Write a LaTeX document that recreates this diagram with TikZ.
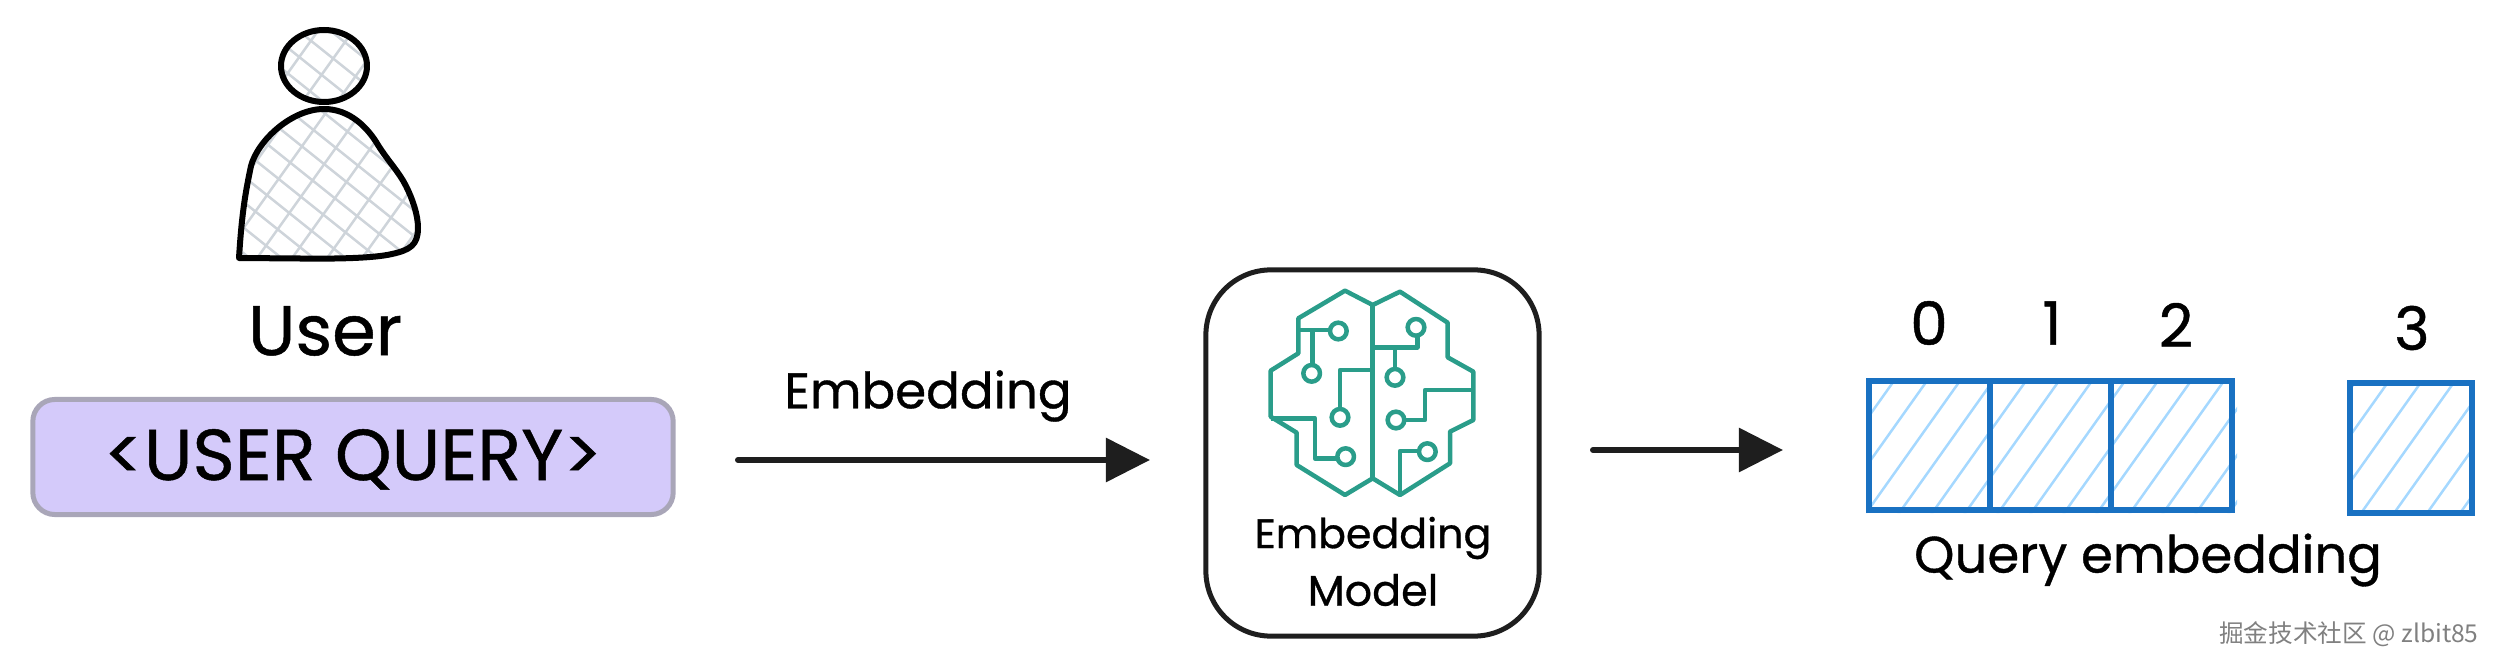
\documentclass[tikz,border=0pt]{standalone}
\usepackage{fontspec}
\setmainfont{Poppins}[FakeBold=0.7]
\newfontfamily\cjkfont{Noto Sans CJK SC}
\usepackage{xcolor}
\usetikzlibrary{positioning,arrows.meta}
\definecolor{inkblack}{HTML}{1E1E1E}
\definecolor{querypurple}{HTML}{D4CAFA}
\definecolor{queryedge}{HTML}{A9A6B8}
\definecolor{cellblue}{HTML}{1971C2}
\definecolor{hatchblue}{HTML}{A5D8FF}
\definecolor{hatchgrey}{HTML}{CED4DA}
\definecolor{brainteal}{HTML}{2A9D8A}
\tikzset{
	label text/.style={inner sep=0pt,text=black,font=\fontsize{17}{20}\selectfont},
	cell/.style={draw=cellblue,line width=0.6mm,minimum width=1.21cm,minimum height=1.29cm,inner sep=0pt,outer sep=0pt},
	flow/.style={draw=inkblack,line width=0.6mm,line cap=round,-{Triangle[length=4.4mm,width=4.3mm]}},
	person/.style={draw=black,line width=0.6mm,line join=round},
	grey hatch/.style={draw=hatchgrey,line width=0.25mm},
	blue hatch/.style={draw=hatchblue,line width=0.25mm},
	brain/.style={draw=brainteal,line width=0.45mm,line join=round}
}
\begin{document}
\begin{tikzpicture}[x=0.01cm,y=-0.01cm]
	\useasboundingbox (0,0) rectangle (2499,667);

	% user figure
	\begin{scope}
		\clip (324,66) ellipse [x radius=43,y radius=36];
		\foreach \k in {0,...,8} \draw[grey hatch] ({200+35*\k},0) -- ++(-80,112);
		\foreach \k in {0,...,10} \draw[grey hatch] ({100+32*\k},0) -- ++(150,120);
	\end{scope}
	\begin{scope}
		\clip (239,258) .. controls (242,210) and (246,190) .. (251,166) .. controls (258,140) and (292,109) .. (324,109) .. controls (350,109) and (368,128) .. (378,145) .. controls (388,161) and (399,172) .. (406,186) .. controls (412,198) and (418,214) .. (418,228) .. controls (418,245) and (410,250) .. (392,254) .. controls (375,258) and (340,259) .. (300,258.5) -- cycle;
		\foreach \k in {0,...,14} \draw[grey hatch] ({300+35*\k},100) -- ++(-120,168);
		\foreach \k in {0,...,16} \draw[grey hatch] ({20+32*\k},100) -- ++(210,168);
	\end{scope}
	\draw[person] (324,66) ellipse [x radius=43,y radius=36];
	\draw[person] (239,258) .. controls (242,210) and (246,190) .. (251,166) .. controls (258,140) and (292,109) .. (324,109) .. controls (350,109) and (368,128) .. (378,145) .. controls (388,161) and (399,172) .. (406,186) .. controls (412,198) and (418,214) .. (418,228) .. controls (418,245) and (410,250) .. (392,254) .. controls (375,258) and (340,259) .. (300,258.5) -- cycle;
	\node[label text,font=\fontsize{20}{24}\selectfont] (user) at (325,331) {User};

	% query box
	\node[draw=queryedge,fill=querypurple,line width=0.5mm,rounded corners=0.22cm,minimum width=6.4cm,minimum height=1.15cm,
		label text,font=\fontsize{20.5}{24}\selectfont] (query) at (353,457) {\smash{\raisebox{-0.23cm}{<USER QUERY>}}};

	% embedding model
	\node[draw=inkblack,line width=0.5mm,rounded corners=0.65cm,minimum width=3.33cm,minimum height=3.66cm] (model) at (1372.5,453) {};
	\begin{scope}[shift={(1180,250)},xscale=1/3,yscale=1/3]
		\draw[brain] (578,165) -- (495,122) -- (355,205) -- (355,310) -- (272,362) -- (272,500) -- (350,548) -- (350,645) -- (495,735) -- (578,685)
			-- (660,735) -- (810,640) -- (810,545) -- (880,510) -- (880,365) -- (803,322) -- (803,218) -- (660,125) -- cycle;
		\draw[brain] (578,165) -- (578,685);
		\foreach \cx/\cy in {475/243,395/370,480/502,497/620,708/232,645/382,648/510,742/605}
			\draw[brain] (\cx,\cy) circle [radius=25];
		\draw[brain] (355,240) -- (450,240) (397,240) -- (397,345);
		\draw[brain] (578,360) -- (480,360) -- (480,477);
		\draw[brain] (272,505) -- (405,505) -- (405,625) -- (472,625);
		\draw[brain] (578,292) -- (712,292) -- (712,257) (645,292) -- (645,357);
		\draw[brain] (880,420) -- (735,420) -- (735,510) -- (673,510);
		\draw[brain] (660,735) -- (660,603) -- (717,603);
	\end{scope}
	\node[label text,font=\fontsize{11.7}{14}\selectfont] (modeltop) at (1373,538) {Embedding};
	\node[label text,font=\fontsize{12.2}{15}\selectfont] (modelbot) at (1373,590) {Model};

	% arrows
	\coordinate (flowa) at (738,460);
	\coordinate (flowb) at (1150,460);
	\coordinate (flowc) at (1593,450);
	\coordinate (flowd) at (1783,450);
	\draw[flow] (flowa) -- (flowb);
	\draw[flow] (flowc) -- (flowd);
	\node[label text,font=\fontsize{14.2}{17}\selectfont] (embed) at (928,396) {Embedding};

	% embedding cells
	\begin{scope}
		\clip (1866,378) rectangle (2237,513) (2348,381) rectangle (2474,515);
		\foreach \k in {0,...,22} \draw[blue hatch] ({1863+33*\k},378) -- ++(-98,138);
	\end{scope}
	\node[cell] (cell0) at (1929.5,445.5) {};
	\node[cell,right=0pt of cell0] (cell1) {};
	\node[cell,right=0pt of cell1] (cell2) {};
	\node[cell] (cell3) at (2411,448) {};
	\node[label text] (num0) at (1929,323) {0};
	\node[label text] (num1) at (2052,323) {1};
	\node[label text] (num2) at (2176,325) {2};
	\node[label text] (num3) at (2412,328) {3};
	\node[label text,font=\fontsize{14.6}{18}\selectfont] (caption) at (2148,560) {Query embedding};

	\node[inner sep=0pt,text=gray,font=\cjkfont\fontsize{7}{8}\selectfont] (mark) at (2349,634) {掘金技术社区 @ zlbit85};
\end{tikzpicture}
\end{document}
